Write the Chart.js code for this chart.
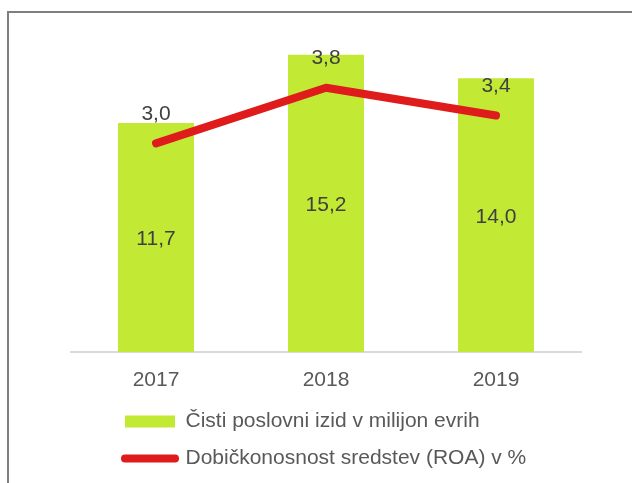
<!DOCTYPE html>
<html>
<head>
<meta charset="utf-8">
<script src="https://cdn.jsdelivr.net/npm/chart.js@4.4.1/dist/chart.umd.min.js"></script>
<style>
  html, body { margin: 0; padding: 0; background: #fff; overflow: hidden; }
  #wrap { position: relative; width: 632px; height: 483px; overflow: hidden; }
  #frame {
    position: absolute; left: 7px; top: 11px; right: -10px; bottom: -10px;
    border-left: 2px solid #7f7f7f; border-top: 2px solid #7f7f7f;
    pointer-events: none;
  }
  canvas { position: absolute; left: 0; top: 0; }
</style>
</head>
<body>
<div id="wrap">
  <canvas id="chart" width="632" height="483"></canvas>
  <div id="frame"></div>
</div>
<script>
// data
const years = ['2017', '2018', '2019'];
const netResult = [11.7, 15.2, 14.0];   // Čisti poslovni izid v milijon evrih
const roa = [3.0, 3.8, 3.4];            // ROA v %
const seriesNames = ['Čisti poslovni izid v milijon evrih', 'Dobičkonosnost sredstev (ROA) v %'];

const GREEN = '#c2e933';
const RED = '#e01b1b';

Chart.defaults.font.family = "'Liberation Sans', Arial, sans-serif";
Chart.defaults.font.size = 21;

const fmt = v => v.toFixed(1).replace('.', ',');

// value labels (no datalabels plugin available)
const valueLabels = {
  id: 'valueLabels',
  afterDatasetsDraw(chart) {
    const ctx = chart.ctx;
    ctx.save();
    ctx.font = "21px 'Liberation Sans', Arial, sans-serif";
    ctx.fillStyle = '#404040';
    ctx.textAlign = 'center';
    ctx.textBaseline = 'middle';
    chart.getDatasetMeta(0).data.forEach((bar, i) => {
      const p = bar.getProps(['x', 'y', 'base'], true);
      ctx.fillText(fmt(netResult[i]), p.x, (p.y + p.base) / 2 + 2);
    });
    chart.getDatasetMeta(1).data.forEach((pt, i) => {
      ctx.fillText(fmt(roa[i]), pt.x, pt.y - 29);
    });
    ctx.restore();
  }
};

// push the legend rows to the right, left aligned
const legendShift = {
  id: 'legendShift',
  afterLayout(chart) {
    chart.legend.left += 38;
    chart.legend.right += 38;
  }
};

new Chart(document.getElementById('chart'), {
  type: 'bar',
  data: {
    labels: years,
    datasets: [
      {
        type: 'bar',
        label: seriesNames[0],
        data: netResult,
        backgroundColor: GREEN,
        borderWidth: 0,
        categoryPercentage: 1.0,
        barPercentage: 0.447,
        yAxisID: 'y',
        order: 1
      },
      {
        type: 'line',
        label: seriesNames[1],
        data: roa,
        borderColor: RED,
        backgroundColor: RED,
        borderWidth: 8,
        borderCapStyle: 'round',
        borderJoinStyle: 'round',
        pointRadius: 0,
        tension: 0,
        yAxisID: 'y2',
        order: 0
      }
    ]
  },
  options: {
    responsive: false,
    animation: false,
    layout: { padding: { left: 71, right: 51, top: 39, bottom: 4 } },
    scales: {
      x: {
        grid: { display: false, drawTicks: false },
        border: { display: true, color: '#d9d9d9', width: 2 },
        ticks: { color: '#595959', padding: 16, font: { size: 21 } },
        afterFit(scale) { scale.height = 43; }
      },
      y: { display: false, min: 0, max: 16 },
      y2: { display: false, min: 0, max: 4.5, position: 'right' }
    },
    plugins: {
      tooltip: { enabled: false },
      legend: {
        position: 'bottom',
        align: 'start',
        labels: {
          color: '#595959',
          font: { size: 21 },
          padding: 16,
          usePointStyle: true,
          pointStyleWidth: 50,
          boxHeight: 12,
          sort: (a, b) => a.datasetIndex - b.datasetIndex,
          generateLabels(chart) {
            const items = Chart.defaults.plugins.legend.labels.generateLabels(chart);
            items.forEach(item => {
              if (item.datasetIndex === 0) {
                item.pointStyle = 'rect';
                item.fillStyle = GREEN;
                item.lineWidth = 0;
              } else {
                item.pointStyle = 'line';
                item.strokeStyle = RED;
                item.lineWidth = 8;
                item.lineCap = 'round';
              }
            });
            return items;
          }
        }
      }
    }
  },
  plugins: [valueLabels, legendShift]
});
</script>
</body>
</html>
